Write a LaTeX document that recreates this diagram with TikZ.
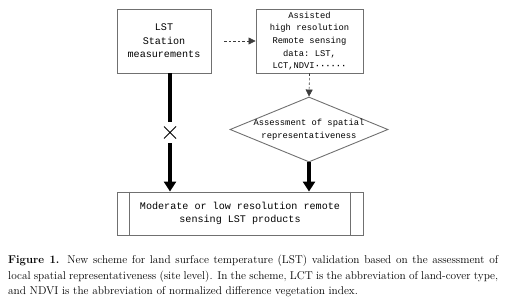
\documentclass[tikz,border=0pt]{standalone}
\usepackage{fontspec}
\setmonofont{Liberation Mono}
\usetikzlibrary{arrows.meta,shapes.geometric}
\definecolor{bordergray}{RGB}{112,112,112}
\definecolor{dashgray}{RGB}{60,60,60}
\begin{document}
\begin{tikzpicture}[x=1pt,y=-1pt,
  box/.style={draw=bordergray,line width=0.9pt,inner sep=0pt,align=center,font=\ttfamily},
  thickarrow/.style={line width=3.2pt,-{Triangle[length=10pt,width=12pt]}},
  dasharrow/.style={dashgray,line width=0.6pt,dash pattern=on 2.5pt off 2pt,-{Triangle[length=7pt,width=7pt]}},
  smalltext/.style={font=\ttfamily\fontsize{8.8}{12.6}\selectfont},
  bigtext/.style={font=\ttfamily\fontsize{10.1}{13.4}\selectfont}]
\useasboundingbox (0,0) rectangle (506,302);
\node[box,bigtext,minimum width=94pt,minimum height=64pt] (lst) at (164,41)
  {LST\\Station\\measurements};
\node[box,smalltext,minimum width=107pt,minimum height=64pt] (ass) at (309.5,41)
  {Assisted\\high resolution\\Remote sensing\\data: LST,\\LCT,NDVI\textbf{\textperiodcentered\textperiodcentered\textperiodcentered\textperiodcentered\textperiodcentered\textperiodcentered}};
\node[diamond,draw=bordergray,line width=0.9pt,inner sep=0pt,minimum width=158pt,minimum height=65pt] (dia) at (309,129.5) {};
\node[smalltext,align=center,inner sep=0pt] (diat) at (dia.center) {Assessment of spatial\\representativeness};
\node[box,bigtext,minimum width=246pt,minimum height=43pt] (bot) at (240,213.5)
  {Moderate or low resolution remote\\sensing LST products};
\draw[bordergray,line width=0.9pt] ([xshift=13pt]bot.north west) -- ([xshift=13pt]bot.south west);
\draw[bordergray,line width=0.9pt] ([xshift=-13pt]bot.north east) -- ([xshift=-13pt]bot.south east);
% cross
\node[inner sep=0pt,minimum width=14pt,minimum height=21pt] (xm) at (170,132.5) {};
\draw[line width=0.9pt] ([shift={(-6,-6)}]xm.center) -- ([shift={(6,6)}]xm.center)
  ([shift={(-6,6)}]xm.center) -- ([shift={(6,-6)}]xm.center);
% connectors
\draw[line width=3.2pt] ([xshift=6pt]lst.south) -- (xm.north);
\draw[thickarrow] (xm.south) -- (xm.south |- bot.north);
\draw[thickarrow] (dia.south) -- (dia.south |- bot.north);
\draw[dasharrow] ([xshift=13pt]lst.east) -- (ass.west);
\draw[dasharrow] (ass.south) -- (dia.north);
% caption
\node[anchor=north west,inner sep=0pt,text width=490pt,align=justify,
  font=\fontsize{11.3}{15.6}\selectfont] (cap) at (8,255)
  {\textbf{Figure 1.} New scheme for land surface temperature (LST) validation based on the assessment of local spatial representativeness (site level). In the scheme, LCT is the abbreviation of land-cover type, and NDVI is the abbreviation of normalized difference vegetation index.};
\end{tikzpicture}
\end{document}
